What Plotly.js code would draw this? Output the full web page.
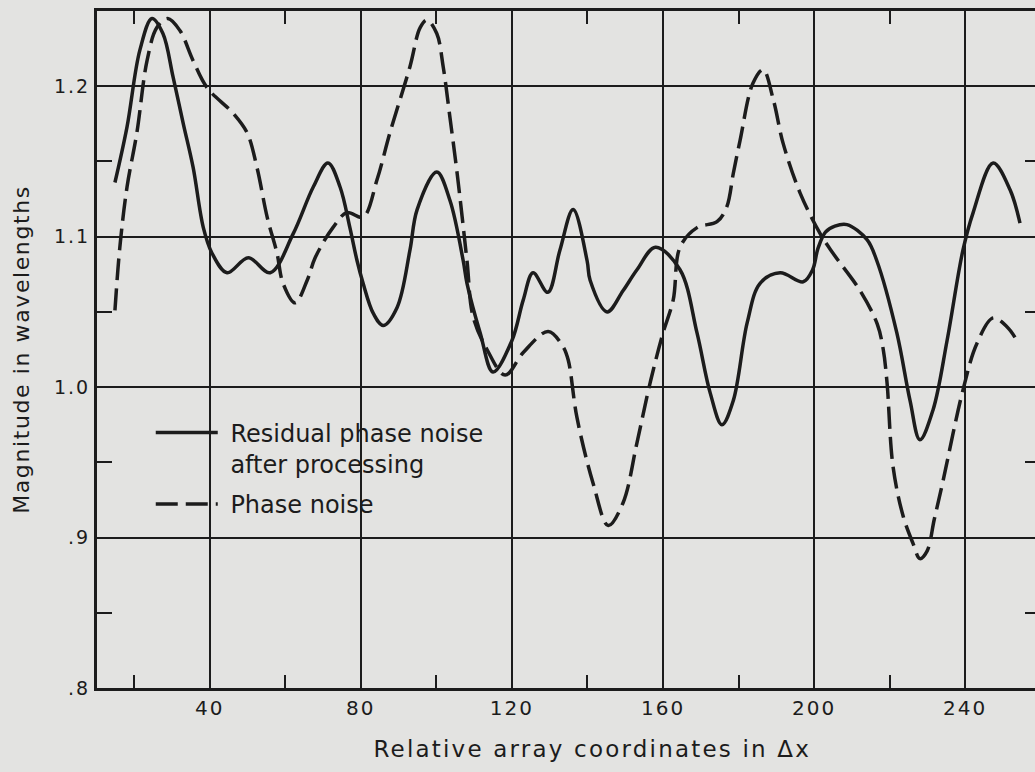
<!DOCTYPE html>
<html>
<head>
<meta charset="utf-8">
<script src="https://cdn.plot.ly/plotly-3.0.1.min.js"></script>
<style>
  html, body { margin: 0; padding: 0; overflow: hidden; background: #e3e3e1; }
  #chart { width: 1040px; height: 772px; }
  #chart .xtitle { letter-spacing: 2.2px; }
  #chart .ytitle { letter-spacing: 1.6px; }
  #chart .xtick text, #chart .ytick text { letter-spacing: 2px; }
</style>
</head>
<body>
<div id="chart"></div>
<script>
// Residual phase noise after processing (solid)
const residualX = [14.9, 18.1, 21.5, 24.7, 27.6, 30.3, 33.0, 35.6, 38.3, 40.6, 44.6, 50.2, 56.0,
  62.1, 67.4, 71.3, 74.5, 77.1, 79.0, 80.6, 83.3, 85.9, 89.6, 93.0, 94.9, 100.1, 103.6, 107.1,
  108.1, 111.6, 115.0, 120.0, 123.0, 125.6, 129.5, 132.7, 136.2, 139.9, 140.7, 145.2, 149.4,
  153.1, 158.0, 164.5, 169.0, 172.5, 175.6, 178.6, 182.3, 185.7, 191.0, 197.1, 199.6, 201.0,
  203.0, 205.5, 208.7, 214.0, 216.6, 221.9, 225.4, 228.0, 231.5, 235.2, 239.4, 242.1, 247.4,
  251.9, 254.5];
const residualY = [1.136, 1.173, 1.224, 1.245, 1.235, 1.206, 1.175, 1.146, 1.106, 1.089, 1.076, 1.086, 1.076,
  1.102, 1.133, 1.149, 1.133, 1.106, 1.084, 1.069, 1.049, 1.041, 1.053, 1.091, 1.118, 1.143, 1.124, 1.084,
  1.069, 1.036, 1.010, 1.031, 1.058, 1.076, 1.063, 1.091, 1.118, 1.084, 1.071, 1.050, 1.064,
  1.078, 1.093, 1.078, 1.036, 0.996, 0.975, 0.991, 1.043, 1.069, 1.076, 1.070, 1.078, 1.092,
  1.103, 1.107, 1.108, 1.098, 1.084, 1.036, 0.991, 0.965, 0.985, 1.031, 1.091, 1.116, 1.149,
  1.131, 1.109];

// Phase noise (dashed)
const phaseX = [14.9, 16.2, 18.1, 20.7, 23.4, 26.0, 28.9, 32.1, 35.6, 39.3, 46.2, 49.9, 52.5, 55.2,
  57.8, 59.4, 62.6, 65.8, 67.9, 72.6, 76.3, 80.6, 84.3, 87.7, 93.0, 95.7, 97.5, 100.1, 101.8, 103.6,
  105.5, 108.1, 109.7, 113.4, 118.2, 123.0, 129.6, 133.5, 134.9, 137.2, 141.5, 145.5, 149.4, 153.1,
  156.6, 160.0, 162.7, 164.5, 169.0, 174.3, 176.9, 178.6, 180.4, 183.8, 186.5, 189.2, 191.8, 196.3,
  201.6, 205.0, 212.2, 216.7, 218.3, 219.3, 220.9, 223.6, 226.2, 228.0, 229.9, 231.8, 233.9, 239.4,
  243.1, 247.4, 251.1, 253.2];
const phaseY = [1.051, 1.093, 1.133, 1.169, 1.217, 1.239, 1.245, 1.237, 1.217, 1.199, 1.182, 1.169, 1.146, 1.113,
  1.089, 1.069, 1.056, 1.071, 1.086, 1.106, 1.116, 1.113, 1.138, 1.169, 1.213, 1.239, 1.244, 1.235, 1.213, 1.179,
  1.142, 1.084, 1.047, 1.025, 1.008, 1.023, 1.037, 1.027, 1.018, 0.980, 0.936, 0.908, 0.923, 0.963,
  1.003, 1.036, 1.058, 1.093, 1.106, 1.110, 1.120, 1.142, 1.164, 1.202, 1.211, 1.191, 1.162, 1.129,
  1.102, 1.089, 1.064, 1.042, 1.025, 1.003, 0.947, 0.914, 0.896, 0.886, 0.891, 0.912, 0.935, 0.998,
  1.029, 1.046, 1.040, 1.033];

const xTickVals = [40, 80, 120, 160, 200, 240];
const xTickText = ['40', '80', '120', '160', '200', '240'];
const xMinorVals = [20, 60, 100, 140, 180, 220];
const yTickVals = [0.8, 0.9, 1.0, 1.1, 1.2];
const yTickText = ['.8', '.9', '1.0', '1.1', '1.2'];
const yMinorVals = [0.85, 0.95, 1.05, 1.15];

const ink = '#1c1c1c';
const paper = '#e3e3e1';
const fontFam = 'DejaVu Sans, sans-serif';
const nb = '\u00a0';
const xTitlePad = '\u200b' + nb.repeat(5);

const traces = [
  {
    x: residualX, y: residualY, type: 'scatter', mode: 'lines',
    name: nb + 'Residual phase noise<br>' + nb + 'after processing',
    legendgroup: 'a',
    line: { color: ink, width: 3.5, shape: 'spline', smoothing: 1 }
  },
  {
    x: phaseX, y: phaseY, type: 'scatter', mode: 'lines',
    name: nb + 'Phase noise',
    legendgroup: 'b',
    line: { color: ink, width: 3.5, shape: 'spline', smoothing: 1, dash: '22px,8px' }
  }
];

const layout = {
  width: 1040, height: 772,
  margin: { l: 97, r: 0, t: 11, b: 84 },
  paper_bgcolor: paper, plot_bgcolor: paper,
  font: { family: fontFam, color: ink },
  showlegend: true,
  legend: {
    x: 0.057, y: 0.41, xanchor: 'left', yanchor: 'top',
    bgcolor: 'rgba(0,0,0,0)', borderwidth: 0,
    font: { family: fontFam, size: 24, color: ink },
    itemwidth: 62, valign: 'top', tracegroupgap: 6
  },
  xaxis: {
    range: [10.15, 259.8],
    tickmode: 'array', tickvals: xTickVals, ticktext: xTickText,
    ticks: '', showgrid: true, gridcolor: ink, gridwidth: 2,
    showline: true, linecolor: ink, linewidth: 3, mirror: 'allticks',
    zeroline: false,
    tickfont: { family: fontFam, size: 20, color: ink },
    minor: { tickmode: 'array', tickvals: xMinorVals, ticks: 'inside', ticklen: 13, tickwidth: 2, tickcolor: ink, showgrid: false },
    title: { text: xTitlePad + 'Relative array coordinates in \u0394x', font: { family: fontFam, size: 23, color: ink }, standoff: 22 }
  },
  yaxis: {
    range: [0.8, 1.25],
    tickmode: 'array', tickvals: yTickVals, ticktext: yTickText,
    ticks: '', showgrid: true, gridcolor: ink, gridwidth: 2,
    showline: true, linecolor: ink, linewidth: 3, mirror: 'allticks',
    zeroline: false,
    tickfont: { family: fontFam, size: 19, color: ink },
    minor: { tickmode: 'array', tickvals: yMinorVals, ticks: 'inside', ticklen: 15, tickwidth: 2, tickcolor: ink, showgrid: false },
    title: { text: 'Magnitude in wavelengths', font: { family: fontFam, size: 22, color: ink }, standoff: 25 }
  }
};

Plotly.newPlot('chart', traces, layout, { displayModeBar: false, staticPlot: true });
</script>
</body>
</html>
